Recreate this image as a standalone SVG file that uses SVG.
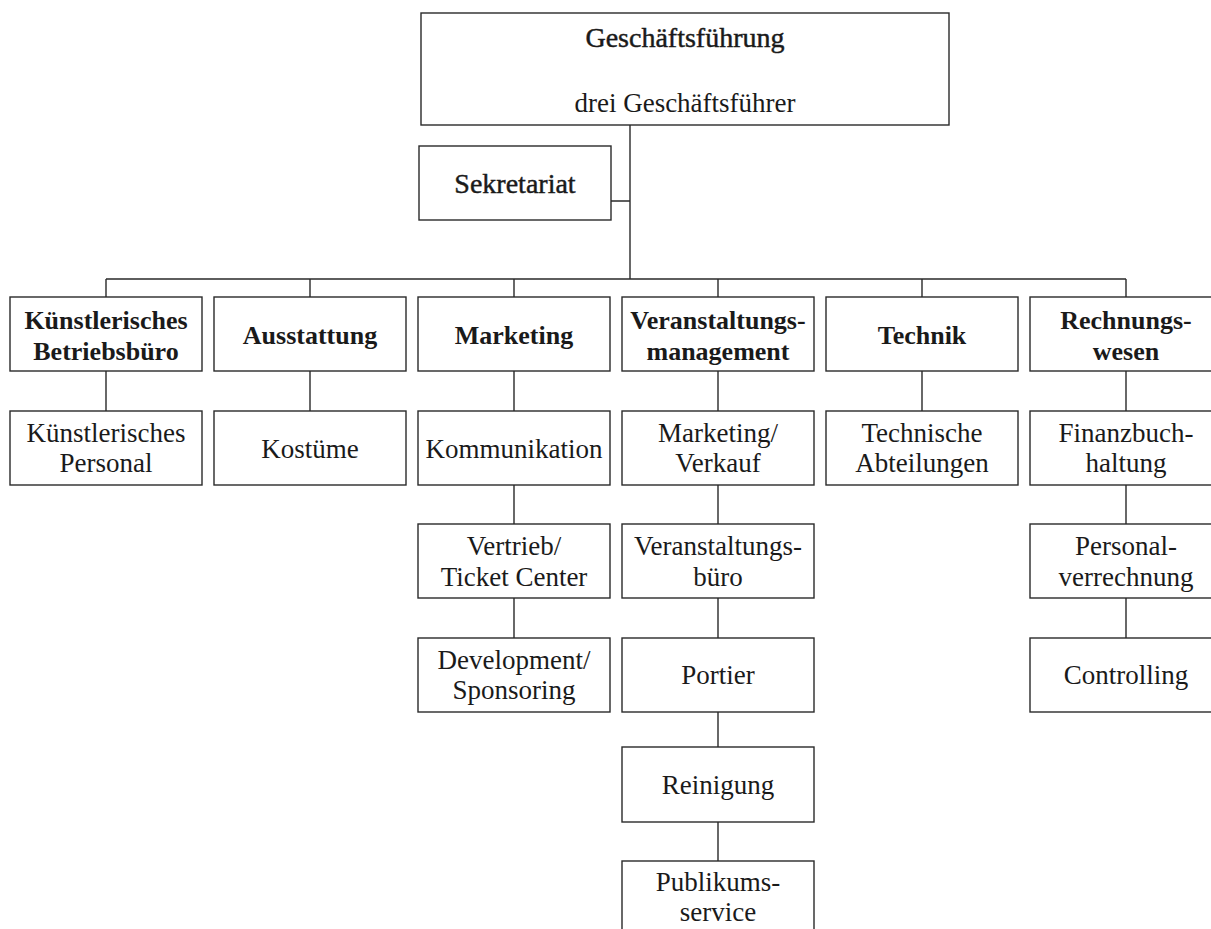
<svg xmlns="http://www.w3.org/2000/svg" width="1211" height="929" viewBox="0 0 1211 929">
<style>
  .box { fill: #ffffff; stroke: #2a2a2a; stroke-width: 1.4; }
  .line { fill: none; stroke: #2a2a2a; stroke-width: 1.4; }
  text { font-family: "Liberation Serif", "Times New Roman", serif; fill: #1a1a1a; text-anchor: middle; }
  .h { font-size: 26px; font-weight: bold; }
  .r { font-size: 27px; }
  .s { font-size: 28px; stroke: #1a1a1a; stroke-width: 0.45; }
</style>
<rect width="1211" height="929" fill="#ffffff"/>

<g id="connectors">
  <path class="line" d="M630 125 V279 M611 201 H630 M106 279 H1126"/>
  <path class="line" d="M106 279 V297 M310 279 V297 M514 279 V297 M718 279 V297 M922 279 V297 M1126 279 V297"/>
  <path class="line" d="M106 371 V411 M310 371 V411 M514 371 V411 M718 371 V411 M922 371 V411 M1126 371 V411"/>
  <path class="line" d="M514 485 V524 M514 598 V638"/>
  <path class="line" d="M718 485 V524 M718 598 V638 M718 712 V747 M718 822 V861"/>
  <path class="line" d="M1126 485 V524 M1126 598 V638"/>
</g>

<g id="geschaeftsfuehrung">
  <rect class="box" x="421" y="13" width="528" height="112"/>
  <text class="s" x="685" y="47">Geschäftsführung</text>
  <text class="r" x="685" y="112">drei Geschäftsführer</text>
</g>
<g id="sekretariat">
  <rect class="box" x="419" y="146" width="192" height="74"/>
  <text class="s" x="515" y="193">Sekretariat</text>
</g>

<g id="kbb">
  <rect class="box" x="10" y="297" width="192" height="74"/>
  <text class="h" x="106" y="329">Künstlerisches</text>
  <text class="h" x="106" y="360">Betriebsbüro</text>
</g>
<g id="ausstattung">
  <rect class="box" x="214" y="297" width="192" height="74"/>
  <text class="h" x="310" y="344">Ausstattung</text>
</g>
<g id="marketing">
  <rect class="box" x="418" y="297" width="192" height="74"/>
  <text class="h" x="514" y="344">Marketing</text>
</g>
<g id="veranstaltungsmanagement">
  <rect class="box" x="622" y="297" width="192" height="74"/>
  <text class="h" x="718" y="329">Veranstaltungs-</text>
  <text class="h" x="718" y="360">management</text>
</g>
<g id="technik">
  <rect class="box" x="826" y="297" width="192" height="74"/>
  <text class="h" x="922" y="344">Technik</text>
</g>
<g id="rechnungswesen">
  <rect class="box" x="1030" y="297" width="192" height="74"/>
  <text class="h" x="1126" y="329">Rechnungs-</text>
  <text class="h" x="1126" y="360">wesen</text>
</g>

<g id="kuenstlerisches-personal">
  <rect class="box" x="10" y="411" width="192" height="74"/>
  <text class="r" x="106" y="442">Künstlerisches</text>
  <text class="r" x="106" y="472">Personal</text>
</g>
<g id="kostueme">
  <rect class="box" x="214" y="411" width="192" height="74"/>
  <text class="r" x="310" y="458">Kostüme</text>
</g>
<g id="kommunikation">
  <rect class="box" x="418" y="411" width="192" height="74"/>
  <text class="r" x="514" y="458">Kommunikation</text>
</g>
<g id="marketing-verkauf">
  <rect class="box" x="622" y="411" width="192" height="74"/>
  <text class="r" x="718" y="442">Marketing/</text>
  <text class="r" x="718" y="472">Verkauf</text>
</g>
<g id="technische-abteilungen">
  <rect class="box" x="826" y="411" width="192" height="74"/>
  <text class="r" x="922" y="442">Technische</text>
  <text class="r" x="922" y="472">Abteilungen</text>
</g>
<g id="finanzbuchhaltung">
  <rect class="box" x="1030" y="411" width="192" height="74"/>
  <text class="r" x="1126" y="442">Finanzbuch-</text>
  <text class="r" x="1126" y="472">haltung</text>
</g>

<g id="vertrieb">
  <rect class="box" x="418" y="524" width="192" height="74"/>
  <text class="r" x="514" y="555">Vertrieb/</text>
  <text class="r" x="514" y="586">Ticket Center</text>
</g>
<g id="veranstaltungsbuero">
  <rect class="box" x="622" y="524" width="192" height="74"/>
  <text class="r" x="718" y="555">Veranstaltungs-</text>
  <text class="r" x="718" y="586">büro</text>
</g>
<g id="personalverrechnung">
  <rect class="box" x="1030" y="524" width="192" height="74"/>
  <text class="r" x="1126" y="555">Personal-</text>
  <text class="r" x="1126" y="586">verrechnung</text>
</g>

<g id="development">
  <rect class="box" x="418" y="638" width="192" height="74"/>
  <text class="r" x="514" y="669">Development/</text>
  <text class="r" x="514" y="699">Sponsoring</text>
</g>
<g id="portier">
  <rect class="box" x="622" y="638" width="192" height="74"/>
  <text class="r" x="718" y="684">Portier</text>
</g>
<g id="controlling">
  <rect class="box" x="1030" y="638" width="192" height="74"/>
  <text class="r" x="1126" y="684">Controlling</text>
</g>

<g id="reinigung">
  <rect class="box" x="622" y="747" width="192" height="75"/>
  <text class="r" x="718" y="794">Reinigung</text>
</g>
<g id="publikumsservice">
  <rect class="box" x="622" y="861" width="192" height="90"/>
  <text class="r" x="718" y="891">Publikums-</text>
  <text class="r" x="718" y="921">service</text>
</g>
</svg>
